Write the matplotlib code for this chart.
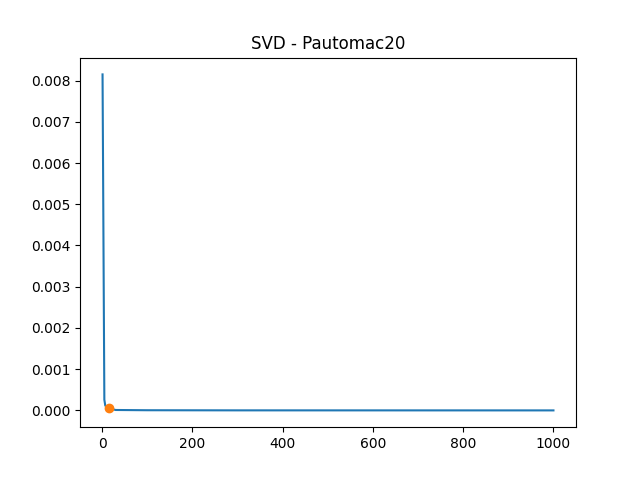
import numpy as np
import matplotlib.pyplot as plt

# singular values (sparse points along the curve)
ranks = [1, 2, 3, 4, 5, 7, 10, 16, 30, 100, 300, 1000]
sing_vals = [0.00815, 0.0062, 0.0042, 0.0022, 0.00026, 0.00012, 0.00007,
             0.00005, 0.00001, 0.000004, 0.000001, 0.0]

# selected rank
best_rank = [16]
best_val = [0.00005]


def main():
    fig, ax = plt.subplots(figsize=(6.4, 4.8), dpi=100)
    ax.plot(ranks, sing_vals)
    ax.plot(best_rank, best_val, 'o')
    ax.set_title("SVD - Pautomac20")
    fig.savefig("out.png")


if __name__ == "__main__":
    main()
